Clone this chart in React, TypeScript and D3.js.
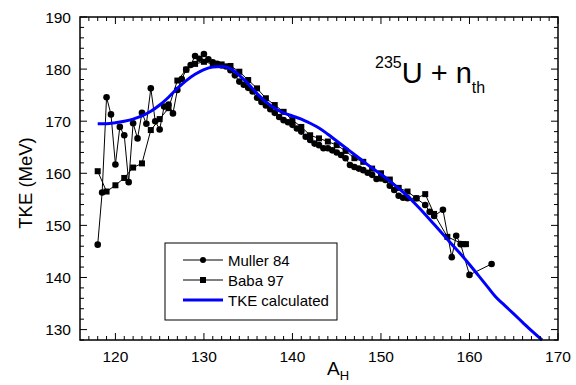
import React from "react";
import * as d3 from "d3";

// ---- Data ----
const mullerA = [118,118.5,119,119.5,120,120.5,121,121.5,122,122.5,123,123.5,124,124.5,125,125.5,126,126.5,127,127.5,128,128.5,129,129.5,130,130.5,131,131.5,132,132.5,133,133.5,134,134.5,135,135.5,136,136.5,137,137.5,138,138.5,139,139.5,140,140.5,141,141.5,142,142.5,143,143.5,144,144.5,145,145.5,146,146.5,147,147.5,148,148.5,149,149.5,150,150.5,151,151.5,152,152.5,153,154,155,155.5,156,157,158,158.5,159,160,162.5];
const mullerTKE = [146.3,156.3,174.6,171.3,161.7,168.9,167.3,158.3,169.6,166.7,171.6,169.5,176.3,170.0,168.4,172.8,173.2,171.5,176.0,178.1,179.9,180.8,182.5,182.0,182.9,181.9,181.3,181.0,180.7,180.5,179.8,178.8,177.6,177.0,176.4,175.7,174.5,173.7,173.0,172.3,171.6,170.8,170.2,169.8,169.3,168.6,168.0,167.0,166.4,165.7,165.4,164.8,164.8,164.4,164.0,163.5,162.9,161.6,161.2,160.9,160.6,160.1,159.7,158.9,159.0,158.7,157.6,156.8,155.7,155.3,155.2,155.2,153.9,152.6,151.8,153.0,143.9,148.0,146.4,140.5,142.6];

const babaA = [118,119,120,121,122,123,124,125,126,127,128,129,130,131,132,133,134,135,136,137,138,139,140,141,142,143,144,145,146,147,148,149,150,151,152,153,154,155,156,157.5,159.3,159.6];
const babaTKE = [160.4,156.5,157.7,159.1,161.1,161.9,168.3,170.4,172.5,177.8,179.9,181.0,181.4,181.0,180.9,180.6,179.5,177.9,176.3,174.4,173.1,171.8,170.2,168.9,167.3,166.7,166.1,165.4,164.3,162.9,162.2,160.9,160.0,158.8,157.2,156.5,155.2,156.0,152.2,147.8,146.4,146.4];

const calcA = [118,119,120,121,122,123,124,125,126,127,128,129,130,131,132,133,134,135,136,137,138,139,140,141,142,143,144,145,146,147,148,149,150,151,152,153,154,155,156,157,158,159,160,161,162,163,164,165,166,167,168.2];
const calcTKE = [169.5,169.5,169.7,170.0,170.4,171.0,171.9,173.1,174.6,176.3,177.8,179.0,179.9,180.4,180.5,180.1,178.8,177.2,175.3,173.7,172.5,171.6,171.0,170.4,169.6,168.7,167.5,166.2,164.9,163.6,162.3,161.0,159.8,158.5,157.1,155.6,153.9,152.1,150.2,148.3,146.4,144.5,142.5,140.4,138.3,136.2,134.6,133.0,131.4,129.8,128.0];

const xTicks = [120, 130, 140, 150, 160, 170];
const yTicks = [130, 140, 150, 160, 170, 180, 190];
const legendLabels = ["Muller 84", "Baba 97", "TKE calculated"];

const W = 576, H = 385;
const M = { left: 80, right: 18, top: 17, bottom: 45 };
const FONT = "'Liberation Sans', Arial, sans-serif";

export default function App() {
  const x = d3.scaleLinear().domain([116, 170]).range([M.left, W - M.right]);
  const y = d3.scaleLinear().domain([128, 190]).range([H - M.bottom, M.top]);
  const x0 = M.left, x1 = W - M.right, y0 = H - M.bottom, y1 = M.top;

  const mullerPts: [number, number][] = mullerA.map((a, i) => [a, mullerTKE[i]]);
  const babaPts: [number, number][] = babaA.map((a, i) => [a, babaTKE[i]]);
  const calcPts: [number, number][] = calcA.map((a, i) => [a, calcTKE[i]]);

  const line = d3.line<[number, number]>().x(d => x(d[0])).y(d => y(d[1]));
  const smooth = d3.line<[number, number]>().x(d => x(d[0])).y(d => y(d[1])).curve(d3.curveMonotoneX);

  const xMinor = d3.range(117, 170, 1).filter(v => v % 10 !== 0);
  const yMinor = d3.range(128, 190, 2).filter(v => v % 10 !== 0);
  const MAJ = 7, MIN = 4;

  const lgX = 165, lgY = 243, lgW = 172, lgH = 77;
  const rowY = [260, 280, 300];

  return (
    <svg width={W} height={H} style={{ position: "absolute", left: 0, top: 0, background: "#fff" }} fontFamily={FONT}>
      <rect x={0} y={0} width={W} height={H} fill="#fff" />
      <defs>
        <clipPath id="plotclip">
          <rect x={x0} y={y1} width={x1 - x0} height={y0 - y1 + 2} />
        </clipPath>
      </defs>

      {/* data */}
      <g clipPath="url(#plotclip)">
        <path d={line(babaPts) || ""} fill="none" stroke="#000" strokeWidth={1} />
        <path d={line(mullerPts) || ""} fill="none" stroke="#000" strokeWidth={1} />
        {babaPts.map((d, i) => (
          <rect key={"b" + i} x={x(d[0]) - 3} y={y(d[1]) - 3} width={6} height={6} fill="#000" />
        ))}
        {mullerPts.map((d, i) => (
          <circle key={"m" + i} cx={x(d[0])} cy={y(d[1])} r={3.3} fill="#000" />
        ))}
        <path d={smooth(calcPts) || ""} fill="none" stroke="#0000ff" strokeWidth={3} />
      </g>

      {/* axes frame */}
      <rect x={x0} y={y1} width={x1 - x0} height={y0 - y1} fill="none" stroke="#000" strokeWidth={1.5} />

      {/* x ticks */}
      {xTicks.map(t => (
        <g key={"xt" + t}>
          <line x1={x(t)} x2={x(t)} y1={y0} y2={y0 - MAJ} stroke="#000" />
          <line x1={x(t)} x2={x(t)} y1={y1} y2={y1 + MAJ} stroke="#000" />
          <text x={x(t)} y={y0 + 22} textAnchor="middle" fontSize={15.5}>{t}</text>
        </g>
      ))}
      {xMinor.map(t => (
        <g key={"xm" + t}>
          <line x1={x(t)} x2={x(t)} y1={y0} y2={y0 - MIN} stroke="#000" />
          <line x1={x(t)} x2={x(t)} y1={y1} y2={y1 + MIN} stroke="#000" />
        </g>
      ))}
      {/* y ticks */}
      {yTicks.map(t => (
        <g key={"yt" + t}>
          <line x1={x0} x2={x0 + MAJ} y1={y(t)} y2={y(t)} stroke="#000" />
          <line x1={x1} x2={x1 - MAJ} y1={y(t)} y2={y(t)} stroke="#000" />
          <text x={x0 - 9} y={y(t) + 5.5} textAnchor="end" fontSize={15.5}>{t}</text>
        </g>
      ))}
      {yMinor.map(t => (
        <g key={"ym" + t}>
          <line x1={x0} x2={x0 + MIN} y1={y(t)} y2={y(t)} stroke="#000" />
          <line x1={x1} x2={x1 - MIN} y1={y(t)} y2={y(t)} stroke="#000" />
        </g>
      ))}

      {/* axis titles */}
      <text x={338} y={375} textAnchor="middle" fontSize={19}>
        A<tspan fontSize={13} dy={5}>H</tspan>
      </text>
      <text transform={`translate(32,183) rotate(-90)`} textAnchor="middle" fontSize={18.5}>TKE (MeV)</text>

      {/* annotation */}
      <text x={375} y={83} fontSize={29}>
        <tspan fontSize={16} dy={-15}>235</tspan>
        <tspan dy={15}>U + n</tspan>
        <tspan fontSize={16} dy={10}>th</tspan>
      </text>

      {/* legend */}
      <rect x={lgX} y={lgY} width={lgW} height={lgH} fill="#fff" stroke="#000" strokeWidth={1} />
      {legendLabels.map((lab, i) => (
        <g key={"lg" + i}>
          <line x1={183} x2={223} y1={rowY[i]} y2={rowY[i]} stroke={i === 2 ? "#0000ff" : "#000"} strokeWidth={i === 2 ? 3 : 1} />
          {i === 0 && <circle cx={203} cy={rowY[i]} r={3} fill="#000" />}
          {i === 1 && <rect x={200} y={rowY[i] - 3} width={6} height={6} fill="#000" />}
          <text x={228} y={rowY[i] + 5.5} fontSize={15}>{lab}</text>
        </g>
      ))}
    </svg>
  );
}
